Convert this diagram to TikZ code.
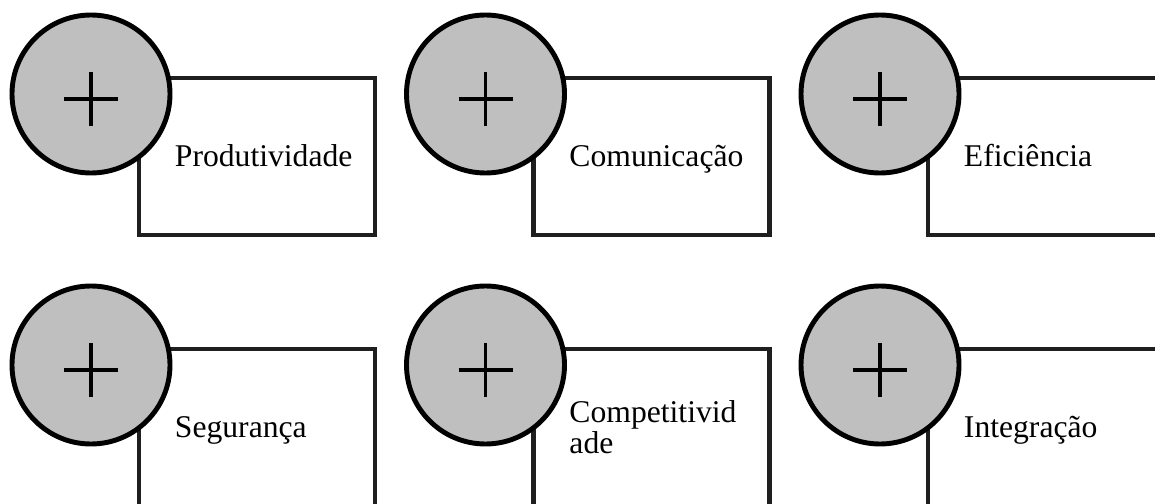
\documentclass[tikz,border=0pt]{standalone}
\usepackage{fontspec}
\setmainfont{Liberation Serif}
\usetikzlibrary{positioning}

\begin{document}
\begin{tikzpicture}[
  x=1cm,y=1cm,
  box/.style={draw=black!88, line width=2.7pt, minimum width=4.72cm, minimum height=3.14cm, inner sep=0pt},
  icon/.style={circle, draw=black, fill=black!25, line width=2.8pt, minimum size=3.16cm, inner sep=0pt},
  lbl/.style={font=\fontsize{18}{17.6}\selectfont, inner sep=0pt, align=left},
  oneline/.style={text height=12.4pt, text depth=0.5pt},
  cross/.style={line width=1.8pt}
]
\useasboundingbox (0,0) rectangle (23.1,-10.08);
% boxes first, the circles sit on their top-left corners
\node[box] (prodbox) at (5.14,-3.13) {};
\node[box] (commbox) at (13.03,-3.13) {};
\node[box] (efficbox) at (20.92,-3.13) {};
\node[box] (safebox) at (5.14,-8.55) {};
\node[box] (compbox) at (13.03,-8.55) {};
\node[box] (integbox) at (20.92,-8.55) {};
\node[lbl, oneline, right=0.76cm of prodbox.west] (prodtext) {Produtividade};
\node[lbl, oneline, right=0.76cm of commbox.west] (commtext) {Comunicação};
\node[lbl, oneline, right=0.76cm of efficbox.west] (effictext) {Eficiência};
\node[lbl, oneline, right=0.76cm of safebox.west] (safetext) {Segurança};
\node[lbl, right=0.76cm of compbox.west] (comptext) {Competitivid\\ade};
\node[lbl, oneline, right=0.76cm of integbox.west] (integtext) {Integração};
% round icons with a plus
\node[icon] (prodicon) at (1.82,-1.88) {};
\node[icon] (commicon) at (9.71,-1.88) {};
\node[icon] (efficicon) at (17.60,-1.88) {};
\node[icon] (safeicon) at (1.82,-7.30) {};
\node[icon] (compicon) at (9.71,-7.30) {};
\node[icon] (integicon) at (17.60,-7.30) {};
\draw[cross] ([yshift=-0.1cm]prodicon.center) +(-0.54,0) -- +(0.54,0) +(0,-0.54) -- +(0,0.54);
\draw[cross] ([yshift=-0.1cm]commicon.center) +(-0.54,0) -- +(0.54,0) +(0,-0.54) -- +(0,0.54);
\draw[cross] ([yshift=-0.1cm]efficicon.center) +(-0.54,0) -- +(0.54,0) +(0,-0.54) -- +(0,0.54);
\draw[cross] ([yshift=-0.1cm]safeicon.center) +(-0.54,0) -- +(0.54,0) +(0,-0.54) -- +(0,0.54);
\draw[cross] ([yshift=-0.1cm]compicon.center) +(-0.54,0) -- +(0.54,0) +(0,-0.54) -- +(0,0.54);
\draw[cross] ([yshift=-0.1cm]integicon.center) +(-0.54,0) -- +(0.54,0) +(0,-0.54) -- +(0,0.54);
\end{tikzpicture}
\end{document}
